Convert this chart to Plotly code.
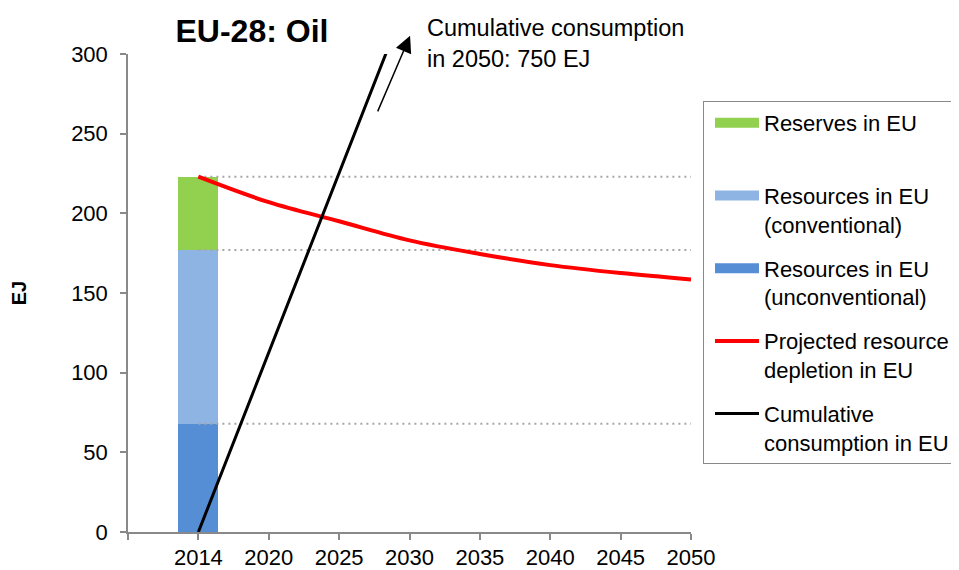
import plotly.graph_objects as go

# categories on the x axis (Excel-style category axis, one empty slot before 2014)
years = ["2014", "2020", "2025", "2030", "2035", "2040", "2045", "2050"]

# stacked bar in 2014 (EJ)
unconventional = 68
conventional = 109
reserves = 46

# projected resource depletion in EU (EJ)
depletion = [223, 207, 195, 183, 174.5, 167.5, 162.5, 158.5]

# cumulative consumption in EU (EJ), runs off the top of the chart
cumulative = [0, 113, 226, 338, 446, 552, 652, 750]

FONT = "Liberation Sans, Arial, sans-serif"
GREEN = "#92D050"
LIGHT_BLUE = "#8EB4E3"
DARK_BLUE = "#558ED5"
RED = "#FF0000"
AXIS_GREY = "#898989"

pos = list(range(len(years)))

fig = go.Figure()

# legend proxies (wide swatches like the original)
for name, color, group in [
    ("Reserves in EU<br> ", GREEN, "res"),
    ("Resources in EU<br>(conventional)", LIGHT_BLUE, "conv"),
    ("Resources in EU<br>(unconventional)", DARK_BLUE, "unconv"),
]:
    fig.add_trace(
        go.Scatter(
            x=[None],
            y=[None],
            mode="lines",
            name=name,
            legendgroup=group,
            line={"color": color, "width": 11},
        )
    )

# stacked bar at 2014
for value, color, group in [
    (unconventional, DARK_BLUE, "unconv"),
    (conventional, LIGHT_BLUE, "conv"),
    (reserves, GREEN, "res"),
]:
    fig.add_trace(
        go.Bar(
            x=[pos[0]],
            y=[value],
            width=0.57,
            marker={"color": color, "line": {"width": 0}},
            legendgroup=group,
            showlegend=False,
        )
    )

# dotted guide lines at the top of each stack segment
levels = [unconventional, unconventional + conventional, unconventional + conventional + reserves]
for level in levels:
    fig.add_trace(
        go.Scatter(
            x=[pos[0], pos[-1]],
            y=[level, level],
            mode="lines",
            line={"color": "#A6A6A6", "width": 2, "dash": "2px,4px"},
            legendgroup="guides",
            showlegend=False,
            hoverinfo="skip",
        )
    )

fig.add_trace(
    go.Scatter(
        x=pos,
        y=depletion,
        mode="lines",
        name="Projected resource<br>depletion in EU",
        legendgroup="depl",
        line={"color": RED, "width": 4, "shape": "spline"},
    )
)

fig.add_trace(
    go.Scatter(
        x=pos,
        y=cumulative,
        mode="lines",
        name="Cumulative<br>consumption in EU",
        legendgroup="cum",
        line={"color": "black", "width": 3},
    )
)

# arrow + note for the off-scale cumulative value
fig.add_annotation(
    x=0.501,
    y=1.038,
    xref="paper",
    yref="paper",
    ax=-33,
    ay=77,
    text="",
    showarrow=True,
    arrowhead=2,
    arrowsize=2.2,
    arrowwidth=1.5,
    arrowcolor="black",
)
fig.add_annotation(
    x=0.5275,
    y=1.023,
    xref="paper",
    yref="paper",
    xanchor="left",
    yanchor="middle",
    align="left",
    text="Cumulative consumption<br>in 2050: 750 EJ",
    showarrow=False,
    font={"family": FONT, "size": 23.5, "color": "black"},
)

# the page body adds an 8px offset, so the margins are set 8px tighter
fig.update_layout(
    width=959,
    height=570,
    paper_bgcolor="white",
    plot_bgcolor="white",
    barmode="stack",
    font={"family": FONT, "size": 22, "color": "black"},
    margin={"l": 120, "r": 276, "t": 46, "b": 46, "autoexpand": False},
    title={
        "text": "<b>EU-28: Oil</b>",
        "x": 0.2544,
        "xref": "container",
        "xanchor": "center",
        "y": 0.9596,
        "yref": "container",
        "yanchor": "middle",
        "font": {"family": FONT, "size": 32, "color": "black"},
    },
    showlegend=True,
    legend={
        "x": 1.0213,
        "y": 0.9017,
        "xanchor": "left",
        "yanchor": "top",
        "bordercolor": AXIS_GREY,
        "borderwidth": 1,
        "bgcolor": "white",
        "traceorder": "grouped",
        "tracegroupgap": 12.5,
        "valign": "top",
        "itemwidth": 44,
        "indentation": 6,
        "font": {"family": FONT, "size": 22, "color": "black"},
    },
    hovermode="x",
)

fig.update_xaxes(
    range=[-1, len(years) - 1],
    tickvals=[-1] + pos,
    ticktext=[""] + years,
    showgrid=False,
    zeroline=False,
    showline=True,
    linecolor=AXIS_GREY,
    linewidth=1.5,
    ticks="outside",
    ticklen=6,
    tickcolor=AXIS_GREY,
    tickwidth=1.5,
    ticklabelstandoff=-1,
    tickfont={"family": FONT, "size": 22, "color": "black"},
)

fig.update_yaxes(
    range=[0, 300],
    dtick=50,
    showgrid=False,
    zeroline=False,
    showline=True,
    linecolor=AXIS_GREY,
    linewidth=1.5,
    ticks="outside",
    ticklen=6,
    tickcolor=AXIS_GREY,
    tickwidth=1.5,
    ticklabelstandoff=8,
    tickfont={"family": FONT, "size": 22, "color": "black"},
    title={"text": "<b>EJ</b>", "standoff": 45, "font": {"family": FONT, "size": 20}},
)

fig.write_html("out.html")
